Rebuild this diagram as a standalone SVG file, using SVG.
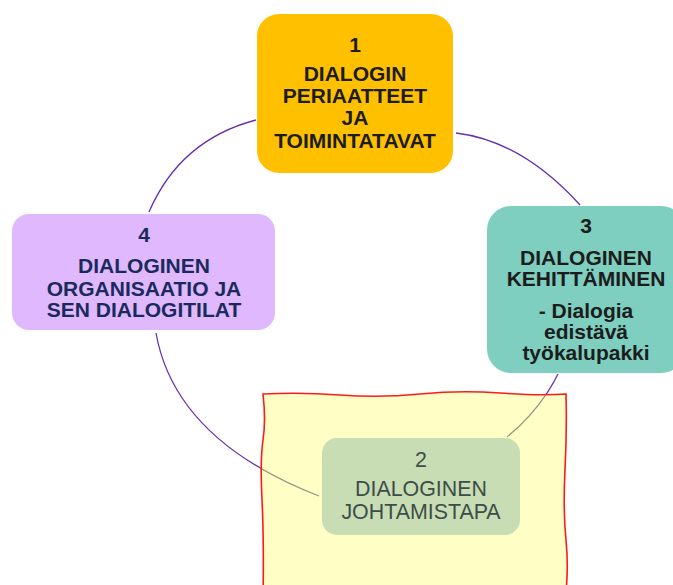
<svg xmlns="http://www.w3.org/2000/svg" xmlns:xlink="http://www.w3.org/1999/xlink" width="673" height="585" viewBox="0 0 673 585">
  <style>
    .label { font-family: "Liberation Sans", Arial, sans-serif; text-anchor: middle; }
    .bold { font-weight: bold; font-size: 21px; }
    .plain { font-weight: normal; font-size: 21.4px; }
    .link { fill: none; stroke-width: 1.3; }
  </style>
  <defs>
    <clipPath id="noteClip">
      <path d="M263,394 Q300,392 340,395 T420,394 T500,393 T566,394 Q567,430 565,470 T566,540 T565,600 L262,600 Q264,540 262,500 T263,440 T263,394 Z"/>
    </clipPath>
  </defs>
  <rect width="673" height="585" fill="#ffffff"/>

  <!-- curved links around the ring -->
  <g id="connectors" stroke="#6a2fb0">
    <path id="c-1-4" class="link" d="M256,120 Q180,140 149,212"/>
    <path id="c-4-2" class="link" d="M156,333 Q175,440 319,496"/>
    <path id="c-1-3" class="link" d="M456,133 Q522,141 580,205"/>
    <path id="c-3-2" class="link" d="M558,374 Q540,410 507,437"/>
  </g>

  <!-- note area -->
  <g id="note">
    <path d="M263,394 Q300,392 340,395 T420,394 T500,393 T566,394 Q567,430 565,470 T566,540 T565,600 L262,600 Q264,540 262,500 T263,440 T263,394 Z" fill="#fffec4"/>
    <g clip-path="url(#noteClip)" stroke="#a09282">
      <use xlink:href="#c-4-2"/>
      <use xlink:href="#c-3-2"/>
    </g>
  </g>

  <g id="node-1">
    <rect x="257" y="14" width="196" height="159" rx="22" fill="#ffc000"/>
    <g class="label bold" fill="#1c1c1c">
      <text x="355" y="52">1</text>
      <text x="355" y="81">DIALOGIN</text>
      <text x="355" y="103">PERIAATTEET</text>
      <text x="355" y="125">JA</text>
      <text x="355" y="148">TOIMINTATAVAT</text>
    </g>
  </g>

  <g id="node-3">
    <rect x="487" y="206" width="198" height="167" rx="24" fill="#7ecfbf"/>
    <g class="label bold" fill="#1c1c1c">
      <text x="586" y="233">3</text>
      <text x="586" y="265">DIALOGINEN</text>
      <text x="586" y="286">KEHITTÄMINEN</text>
      <text x="586" y="318">- Dialogia</text>
      <text x="586" y="339">edistävä</text>
      <text x="586" y="360">työkalupakki</text>
    </g>
  </g>

  <g id="node-4">
    <rect x="12" y="214" width="263" height="116" rx="17" fill="#dfb8fd"/>
    <g class="label bold" fill="#1b2a5c">
      <text x="144" y="242">4</text>
      <text x="144" y="273">DIALOGINEN</text>
      <text x="144" y="296">ORGANISAATIO JA</text>
      <text x="144" y="317">SEN DIALOGITILAT</text>
    </g>
  </g>

  <g id="node-2">
    <rect x="322" y="438" width="198" height="97" rx="15" fill="#c9ddb5"/>
    <g class="label plain" fill="#3c4e48">
      <text x="421" y="467">2</text>
      <text x="421" y="496">DIALOGINEN</text>
      <text x="421" y="519">JOHTAMISTAPA</text>
    </g>
  </g>

  <!-- hand-drawn red outline of the note -->
  <path id="note-outline" d="M263,600 Q264,540 262,500 T263,440 T263,394 Q300,392 340,395 T420,394 T500,393 T566,394 Q567,430 565,470 T566,540 T565,600" fill="none" stroke="#ff1a1a" stroke-width="1.6"/>
</svg>
